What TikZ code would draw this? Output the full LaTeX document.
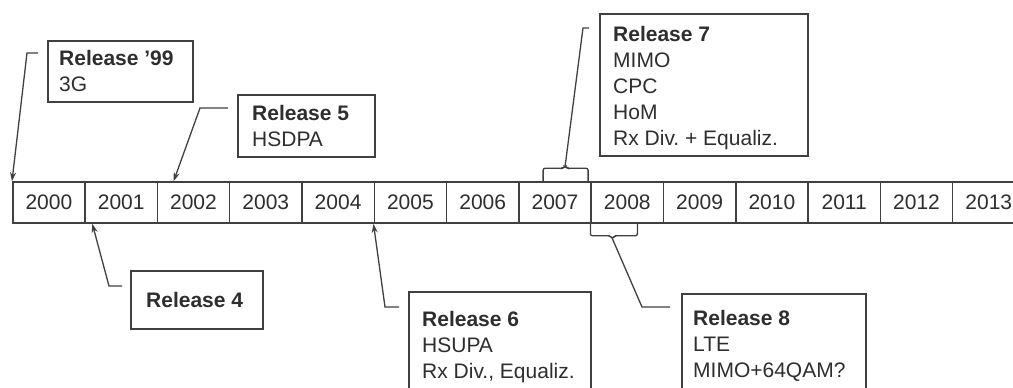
\documentclass[tikz,border=0pt]{standalone}
\usepackage{fontspec}
\setmainfont{Liberation Sans}
\usetikzlibrary{arrows.meta}
\definecolor{ink}{HTML}{2E2E2E}
\definecolor{lin}{HTML}{404040}
\begin{document}
\begin{tikzpicture}[x=1pt,y=-1pt,
 box/.style={draw=lin, line width=1.5pt, rectangle, inner sep=0pt, anchor=north west},
 txt/.style={inner sep=0pt, anchor=north west, align=left, text=ink, font=\fontsize{21}{26}\selectfont\frenchspacing},
 cell/.style={draw=lin, line width=1.5pt, minimum width=72.3pt, minimum height=41pt, inner sep=0pt, anchor=west, text=ink, font=\fontsize{21}{26}\selectfont},
 conn/.style={draw=lin, line width=1.3pt},
 arr/.style={conn, -{Stealth[length=9pt,width=6pt]}},
]
\useasboundingbox (0,0) rectangle (1013,388);
\clip (0,0) rectangle (1013,388);
\fill[white] (0,0) rectangle (1013,388);
\foreach \i in {0,...,13}{
  \pgfmathsetmacro{\xx}{12+72.3*\i}
  \pgfmathtruncatemacro{\yr}{2000+\i}
  \node[cell] (y\yr) at (\xx,202.5) {\yr};
}
% boxes
\node[box, minimum width=145pt, minimum height=61pt] (r99) at (47,40) {};
\node[txt] (r99t) at (59,50) {\textbf{Release '99}\\3G};
\node[box, minimum width=137pt, minimum height=62pt] (r5) at (237,94) {};
\node[txt] (r5t) at (252,105) {\textbf{Release 5}\\HSDPA};
\node[box, minimum width=208pt, minimum height=142pt] (r7) at (599,13) {};
\node[txt] (r7t) at (613,26) {\textbf{Release 7}\\MIMO\\CPC\\HoM\\Rx Div. + Equaliz.};
\node[box, minimum width=132pt, minimum height=58pt] (r4) at (130,270) {};
\node[txt] (r4t) at (146,292) {\textbf{Release 4}};
\node[box, minimum width=182pt, minimum height=120pt] (r6) at (408,291) {};
\node[txt] (r6t) at (422,311) {\textbf{Release 6}\\HSUPA\\Rx Div., Equaliz.};
\node[box, minimum width=184pt, minimum height=120pt] (r8) at (681,293) {};
\node[txt] (r8t) at (693,310) {\textbf{Release 8}\\LTE\\MIMO+64QAM?};
% arrows
\draw[arr] ([shift={(-9,13)}]r99.north west) -- ++(-11,0) -- (y2000.north west);
\draw[arr] ([shift={(-9,14)}]r5.north west) -- ++(-28,0) -- ([xshift=17pt]y2002.north west);
\draw[arr] ([shift={(-8,16)}]r4.north west) -- ++(-13,0) -- ([xshift=8pt]y2001.south west);
\draw[arr] ([shift={(-9,16)}]r6.north west) -- ++(-14,0) -- (y2005.south west);
% braces
\coordinate (b7) at ([shift={(47,-15)}]y2007.north west);
\draw[conn, rounded corners=2pt] ([xshift=25pt]y2007.north west) -- ++(0,-13) -- ++(20,0) -- ++(2,-2) -- ++(2,2) -- ++(21,0) -- ++(0,13);
\draw[conn] ([shift={(-10,15)}]r7.north west) -- ++(-6,0) -- (b7);
\coordinate (b8) at ([shift={(22,15)}]y2008.south west);
\draw[conn, rounded corners=2pt] (y2008.south west) -- ++(0,12) -- ++(20,0) -- ++(2,3) -- ++(2,-3) -- ++(23,0) -- ++(0,-12);
\draw[conn] (b8) -- ([shift={(-39,14)}]r8.north west) -- ([shift={(-11,14)}]r8.north west);
\end{tikzpicture}
\end{document}
